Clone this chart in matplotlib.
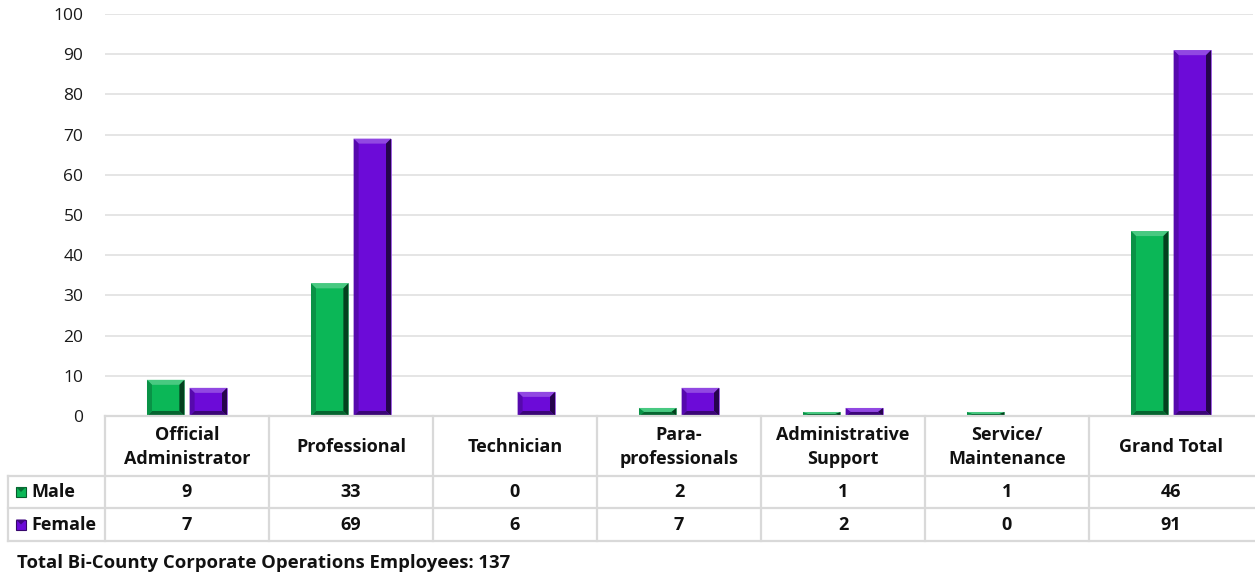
import matplotlib
matplotlib.use("Agg")
import matplotlib.pyplot as plt
from matplotlib.patches import Polygon, Rectangle
from matplotlib.lines import Line2D
import matplotlib.colors as mcolors
import numpy as np

# ---- data -------------------------------------------------------------
categories = ["Official\nAdministrator", "Professional", "Technician",
              "Para-\nprofessionals", "Administrative\nSupport",
              "Service/\nMaintenance", "Grand Total"]
male = [9, 33, 0, 2, 1, 1, 46]
female = [7, 69, 6, 7, 2, 0, 91]
series_names = ["Male", "Female"]
y_ticks = [0, 10, 20, 30, 40, 50, 60, 70, 80, 90, 100]
footer = "Total Bi-County Corporate Operations Employees: 137"

# ---- styling ----------------------------------------------------------
GREEN = "#0bb757"
PURPLE = "#6c0bd8"
GRID = "#dedede"
FONT = ["Open Sans", "DejaVu Sans"]
plt.rcParams["font.family"] = FONT

W, H = 1255, 581
fig = plt.figure(figsize=(W / 100, H / 100), dpi=100)

# plot area in pixel units
ax_l, ax_r, ax_t, ax_b = 105, 1253, 14, 416
ax = fig.add_axes([ax_l / W, 1 - ax_b / H, (ax_r - ax_l) / W, (ax_b - ax_t) / H])

n = len(categories)
ax.set_xlim(-0.5, n - 0.5)
ax.set_ylim(0, 100)
ax.set_yticks(y_ticks)
ax.set_xticks([])
ax.tick_params(axis="y", length=0, pad=15.5, labelsize=12.5, labelcolor="#1a1a1a")
for s in ax.spines.values():
    s.set_visible(False)
ax.grid(axis="y", color=GRID, linewidth=1.1)
ax.set_axisbelow(True)

px_x = (ax_r - ax_l) / n          # pixels per category unit
px_y = (ax_b - ax_t) / 100.0      # pixels per value unit

bar_w = 0.228
offset = 0.13
x = np.arange(n)


def shade(color, f):
    r, g, b = mcolors.to_rgb(color)
    if f >= 1:
        return (r + (1 - r) * (f - 1), g + (1 - g) * (f - 1), b + (1 - b) * (f - 1))
    return (r * f, g * f, b * f)


def bevel_bar(xc, h, color):
    x0, x1 = xc - bar_w / 2, xc + bar_w / 2
    if h <= 0:
        return
    ax.add_patch(Rectangle((x0, 0), bar_w, h, facecolor=color,
                           edgecolor=shade(color, 1.35), linewidth=0.6, zorder=3))
    dx = 5 / px_x
    dy = min(5 / px_y, h / 2)
    faces = [
        ([(x0, h), (x1, h), (x1 - dx, h - dy), (x0 + dx, h - dy)], shade(color, 1.25)),
        ([(x1, h), (x1, 0), (x1 - dx, dy), (x1 - dx, h - dy)], shade(color, 0.35)),
        ([(x0, 0), (x1, 0), (x1 - dx, dy), (x0 + dx, dy)], shade(color, 0.55)),
        ([(x0, 0), (x0, h), (x0 + dx, h - dy), (x0 + dx, dy)], shade(color, 0.8)),
    ]
    for pts, c in faces:
        ax.add_patch(Polygon(pts, closed=True, facecolor=c, edgecolor="none", zorder=4))


for xi, m, f in zip(x, male, female):
    bevel_bar(xi - offset, m, GREEN)
    bevel_bar(xi + offset, f, PURPLE)

# ---- data table below the plot -----------------------------------------
tbl = fig.add_axes([0, 0, 1, 1])
tbl.set_xlim(0, W)
tbl.set_ylim(H, 0)
tbl.axis("off")

row_y = [416, 476, 508, 541]
label_l = 7.5
col_edges = [ax_l + i * px_x for i in range(n + 1)]
lc = "#d9d9d9"
lw = 1.6

# horizontal lines
tbl.add_line(Line2D([ax_l, W], [row_y[0], row_y[0]], color=lc, lw=lw))
for yy in row_y[1:]:
    tbl.add_line(Line2D([label_l, W], [yy, yy], color=lc, lw=lw))
# vertical lines
tbl.add_line(Line2D([label_l, label_l], [row_y[1], row_y[3]], color=lc, lw=lw))
for xe in col_edges[:-1]:
    tbl.add_line(Line2D([xe, xe], [row_y[0], row_y[3]], color=lc, lw=lw))

fs = 13
for i, cat in enumerate(categories):
    cx = (col_edges[i] + col_edges[i + 1]) / 2
    tbl.text(cx, (row_y[0] + row_y[1]) / 2 + 1, cat, ha="center", va="center",
             fontsize=fs, fontweight="bold", linespacing=1.38, color="#111111")
    for r, vals in enumerate([male, female]):
        tbl.text(cx, (row_y[r + 1] + row_y[r + 2]) / 2, str(vals[i]),
                 ha="center", va="center", fontsize=fs, fontweight="bold",
                 color="#111111")

for r, (name, col) in enumerate(zip(series_names, [GREEN, PURPLE])):
    yc = (row_y[r + 1] + row_y[r + 2]) / 2
    tbl.add_patch(Rectangle((16, yc - 5), 10, 10, facecolor=col,
                            edgecolor=shade(col, 0.5), linewidth=0.8))
    tbl.add_patch(Polygon([(16, yc - 5), (26, yc - 5), (21, yc)], closed=True,
                          facecolor=shade(col, 0.6), edgecolor="none"))
    tbl.text(31, yc, name, ha="left", va="center", fontsize=fs,
             fontweight="bold", color="#111111")

tbl.text(17, 563, footer, ha="left", va="center", fontsize=13.3,
         fontweight="bold", color="#111111")

fig.savefig("out.png", dpi=100)
